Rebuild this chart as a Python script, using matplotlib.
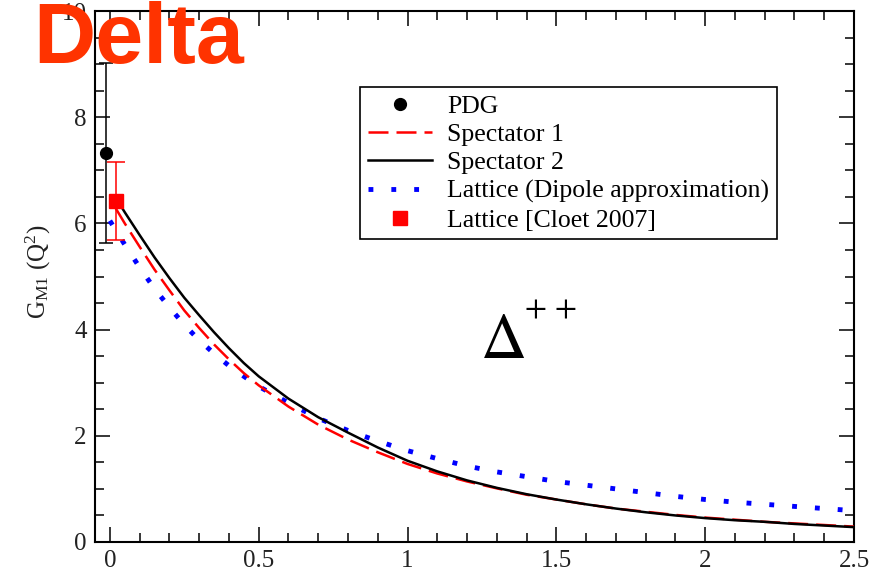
import numpy as np
import matplotlib
matplotlib.use("Agg")
import matplotlib.pyplot as plt
from matplotlib.ticker import MultipleLocator

plt.rcParams['font.family'] = ['Liberation Serif', 'DejaVu Serif']
plt.rcParams['mathtext.fontset'] = 'stix'

# magnetic dipole form factor G_M1(Q^2) of the Delta++
q2_spec2 = [0.02, 0.05, 0.1, 0.15, 0.2, 0.25, 0.3, 0.35, 0.4, 0.45, 0.5, 0.6, 0.7, 0.8, 0.9, 1.0,
            1.1, 1.2, 1.3, 1.4, 1.5, 1.6, 1.7, 1.8, 1.9, 2.0, 2.1, 2.2, 2.3, 2.4, 2.5]
gm_spec2 = [6.48, 6.21, 5.78, 5.36, 4.97, 4.60, 4.27, 3.95, 3.65, 3.37, 3.12, 2.70, 2.35, 2.06, 1.78, 1.53,
            1.33, 1.16, 1.02, 0.90, 0.80, 0.71, 0.63, 0.56, 0.50, 0.45, 0.41, 0.38, 0.34, 0.31, 0.28]

q2_spec1 = q2_spec2
gm_spec1 = [6.28, 6.00, 5.56, 5.13, 4.74, 4.36, 4.03, 3.72, 3.44, 3.18, 2.95, 2.55, 2.21, 1.93, 1.69, 1.47,
            1.29, 1.14, 1.01, 0.89, 0.80, 0.71, 0.63, 0.57, 0.51, 0.46, 0.42, 0.38, 0.35, 0.32, 0.29]

q2_dipole = [0.0, 0.05, 0.1, 0.15, 0.2, 0.25, 0.3, 0.35, 0.4, 0.45, 0.5, 0.6, 0.7, 0.8, 0.9, 1.0,
             1.1, 1.2, 1.3, 1.4, 1.5, 1.6, 1.7, 1.8, 1.9, 2.0, 2.1, 2.2, 2.3, 2.4, 2.5]
gm_dipole = [6.05, 5.60, 5.17, 4.77, 4.42, 4.09, 3.80, 3.55, 3.32, 3.12, 2.93, 2.62, 2.33, 2.10, 1.90, 1.72,
             1.57, 1.43, 1.32, 1.23, 1.14, 1.07, 1.00, 0.93, 0.86, 0.80, 0.75, 0.71, 0.67, 0.63, 0.59]

# data points
pdg_q2, pdg_gm, pdg_err = -0.012, 7.33, 1.69
cloet_q2, cloet_gm, cloet_err = 0.022, 6.42, 0.73

fig = plt.figure(figsize=(8.74, 5.72), dpi=100)
ax = fig.add_axes([95/874, 30/572, 759/874, 531/572])

# curves
ax.plot(q2_spec1, gm_spec1, color='red', lw=1.8, dashes=(8, 3.2), label='Spectator 1', zorder=3)
ax.plot(q2_spec2, gm_spec2, color='black', lw=1.8, label='Spectator 2', zorder=4)
ax.plot(q2_dipole, gm_dipole, color='blue', lw=3.5, dashes=(1, 3.7), dash_capstyle='butt',
        label='Lattice (Dipole approximation)', zorder=2)

# error bars drawn without legend entries
ax.errorbar([pdg_q2], [pdg_gm], yerr=[pdg_err], fmt='none', ecolor='black', elinewidth=1.1,
            capsize=5, capthick=1.1, zorder=5)
ax.errorbar([cloet_q2], [cloet_gm], yerr=[cloet_err], fmt='none', ecolor='red', elinewidth=1.1,
            capsize=6.5, capthick=1.1, zorder=5)
ax.plot([pdg_q2], [pdg_gm], 'o', color='black', ms=8.5, label='PDG', zorder=6)
ax.plot([cloet_q2], [cloet_gm], 's', color='red', ms=10, label='Lattice [Cloet 2007]', zorder=6)

ax.set_xlim(-0.05, 2.5)
ax.set_ylim(0, 10)
ax.xaxis.set_minor_locator(MultipleLocator(0.1))
ax.yaxis.set_minor_locator(MultipleLocator(0.5))
ax.set_xticks([0, 0.5, 1, 1.5, 2, 2.5])
ax.set_xticklabels(['0', '0.5', '1', '1.5', '2', '2.5'])
ax.set_yticks([0, 2, 4, 6, 8, 10])
ax.tick_params(which='both', direction='in', top=True, right=True, labelsize=18,
               labelcolor='#222222', pad=6)
ax.tick_params(which='major', length=11, width=1.1)
ax.tick_params(which='minor', length=6.5, width=1.1)
for sp in ax.spines.values():
    sp.set_linewidth(1.5)

# legend in the given order
h, l = ax.get_legend_handles_labels()
order = ['PDG', 'Spectator 1', 'Spectator 2', 'Lattice (Dipole approximation)', 'Lattice [Cloet 2007]']
hh = [h[l.index(o)] for o in order]
leg = ax.legend(hh, order, loc='upper left', bbox_to_anchor=(360/874, 1 - 87/572),
                bbox_transform=fig.transFigure, fontsize=18.5, frameon=True, fancybox=False,
                framealpha=1, edgecolor='black', borderpad=0.3, labelspacing=0.21,
                handlelength=2.5, handletextpad=0.6, borderaxespad=0)
leg.get_frame().set_linewidth(1.2)

# particle label
ax.text(1.243, 3.46, r'$\Delta$', fontsize=46, ha='left', va='baseline')
ax.text(1.395, 4.38, '+ +', fontsize=23, ha='left', va='center', family='STIXGeneral')

fig.text(38/874, 1 - 272/572, r'$\mathregular{G_{M1}\ (Q^2)}$', rotation=90, fontsize=18,
         ha='center', va='center', color='#222222')

fig.text(33/874, 1 - 63/572, 'Delta', fontsize=62, fontweight='bold', family='Liberation Sans',
         color='#ff3300', ha='left', va='baseline')

fig.savefig('out.png', dpi=100)
